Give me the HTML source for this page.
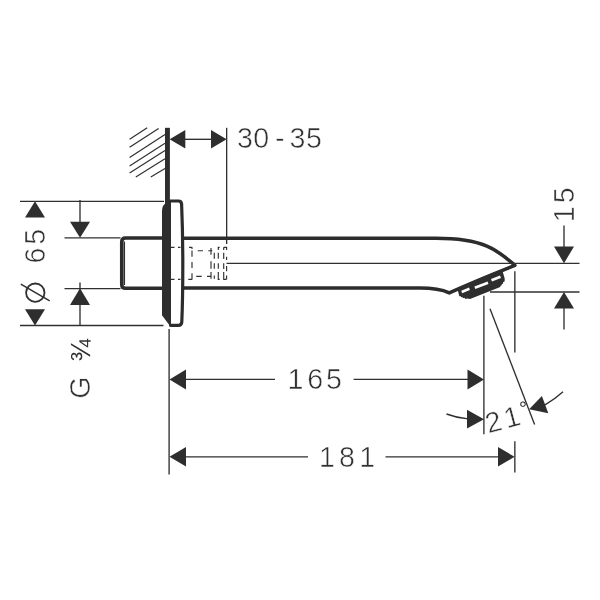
<!DOCTYPE html>
<html lang="en">
<head>
<meta charset="utf-8">
<title>Bath spout dimensional drawing</title>
<style>
html,body{margin:0;padding:0;background:#fff;}
body{width:600px;height:600px;overflow:hidden;}
svg{display:block;will-change:transform;opacity:0.999;}
text{font-family:"Liberation Sans",sans-serif;fill:#303030;stroke:#fff;stroke-width:0.55px;}
.t{stroke:#303030;stroke-width:1.35;fill:none;}
.h{stroke:#303030;stroke-width:1.2;fill:none;}
.k{stroke:#2c2c2c;stroke-width:3.5;fill:none;stroke-linejoin:round;stroke-linecap:round;}
.a{fill:#2e2e2e;stroke:none;}
.d{stroke:#303030;stroke-width:0.9;fill:none;stroke-dasharray:3 2;}
</style>
</head>
<body>
<svg width="600" height="600" viewBox="0 0 600 600">
<rect width="600" height="600" fill="#fff"/>

<!-- wall hatch -->
<g class="h">
<path d="M129.600 139.300L147.200 127.800"/>
<path d="M129.600 147.300L158.600 128.400"/>
<path d="M129.600 157.400L165 134.600"/>
<path d="M129.600 166L165 143.300"/>
<path d="M129.600 173.100L165 150.500"/>
<path d="M135.800 176.900L165 158.800"/>
<path d="M150.800 176.900L165 168.400"/>
</g>
<!-- wall line -->
<path d="M167.450 127.800V206" stroke="#2e2e2e" stroke-width="4.900" fill="none"/>

<!-- 30-35 dimension -->
<path class="t" d="M226.650 127.800V244"/>
<path class="t" d="M184 139.300H212"/>
<path class="a" d="M169.600 139.300L185.300 130V148.600Z"/>
<path class="a" d="M226.600 139.300L211 130V148.600Z"/>
<text x="237.100 253.300 269 275 284 289.600 306" y="147.700" font-size="28.600">30 - 35</text>

<!-- left dimensions -->
<path class="t" d="M20 201.300H164"/>
<path class="t" d="M20 325.500H163.500"/>
<path class="t" d="M64.500 237.800H120.500"/>
<path class="t" d="M64.500 288.600H120.500"/>
<path class="a" d="M35 201.300L25 217.500H45Z"/>
<path class="a" d="M35 325.500L25 309.300H45Z"/>
<path class="t" d="M80 200V222"/>
<path class="a" d="M80 237.700L70 221.700H90Z"/>
<path class="t" d="M80 282.500V326"/>
<path class="a" d="M80 288.300L70 305H90Z"/>
<text transform="translate(45.400 270) rotate(-90)" x="6.500 25.200" y="0" font-size="28.600">65</text>
<!-- diameter symbol -->
<g role="img" aria-label="diameter"><title>⌀ diameter</title>
<circle cx="35.300" cy="292.700" r="9.200" class="t" style="stroke-width:1.800"/>
<path d="M20.800 284.200L49.700 300.800" class="t" style="stroke-width:1.500"/>
</g>
<!-- G 3/4 -->
<text transform="translate(90.200 410) rotate(-90)" x="11.300" y="0" font-size="28.600">G</text>
<text transform="translate(90.200 410) rotate(-90)" x="48.500" y="0" font-size="27" style="stroke:none">¾</text>

<!-- stub -->
<path class="k" d="M163 238.100H125.500Q121.700 238.100 121.700 242V284.500Q121.700 288.300 125.500 288.300H163"/>
<path d="M124.300 241.500V285" stroke="#2e2e2e" stroke-width="1.500" fill="none"/>
<!-- flange -->
<path class="a" d="M162 211Q162 205.500 165.300 203.800L171 199.500V326.800L168.300 323.800L162 315.200Z"/>
<path class="k" d="M170.500 201H178.500Q181.300 201 181.600 204Q182.800 232 182.800 263Q182.800 300 181.800 322Q181.500 325.300 178.500 325.300H170.500" style="stroke-width:3.200"/>
<!-- pipe -->
<path class="k" d="M183 238.300H436C483.700 238.300 497.800 250.100 514.900 265.400Q475 281.200 449.300 292.900C441 289.200 433 288.100 420 288.100H183"/>
<!-- aerator -->
<path class="a" d="M457.400 288.500L459.300 296.200L460.600 296.100L461 297.300L462.400 297L462.900 298.200L464.500 297.800L465.200 298.900L467 298.400L470 299L499 287.400L500.300 286.900L500.200 285.900L501.800 285.300L501.700 284.200L503.200 283.500L503 282.300L504.600 281.400L504.700 278.500L502.800 272L495 272Z"/>
<path d="M461.300 290.800L469 287.600L469.900 290L462.100 293.300Z" fill="#fff"/>
<path d="M474.400 286.600L487.600 281.500L488.500 284L475.300 289.100Z" fill="#fff"/>
<path d="M491 279.100L500 275.400L501 277.900L492 281.600Z" fill="#fff"/>

<!-- hidden detail dashed -->
<path d="M170.5 247.3H174.5M178 247.3H180.5M189 247.3H192.3M217.7 247.3H219.7M223.7 247.3H227M170.5 279.3H174.5M178 279.3H180.5M188.3 279.3H192.3M217.7 279.3H219.7M223.2 279.3H226.5M192 247.3V249M192 250.5V256.7M192 262V268M192 273.3V279.3M197.7 250.7H203M208.3 250.7H212.3M196.3 276.3H201.7M207 276.3H211M211 248V254.7M211 261.3V268.7M211 272V278.7M214.3 252.7V258.7M214.3 263.3V268.7M214.3 275.5V278.7M218.3 247.3V250M218.3 252.7V258.7M218.3 263.3V268.7M218.3 272V278.7M223.7 247.3V250M223.7 252.7V259M223.7 263.3V269M223.7 272V279.3M226.6 246.7V250M226.6 256.7V260M226.6 266V271.3M226.6 275.5V279.3" stroke="#303030" stroke-width="1.150" fill="none"/>

<!-- centre line & 15 dim -->
<path class="t" d="M226.500 263.300H579.500"/>
<path class="t" d="M490 292H579.500"/>
<path class="t" d="M564 225.500V248"/>
<path class="a" d="M564 263.300L554 246.500H574Z"/>
<path class="t" d="M564 307V329.500"/>
<path class="a" d="M564 292L554 308.500H574Z"/>
<text transform="translate(574.200 230) rotate(-90)" x="7.700 26.800" y="0" font-size="28.600">15</text>

<!-- vertical ext lines -->
<path class="t" d="M169.100 329V474.500"/>
<path class="t" d="M483.900 295.700V434.300"/>
<path class="t" d="M514.850 271.200V352.400"/>
<path class="t" d="M514.850 441.200V472.600"/>
<path class="t" d="M490 308.700L534.600 424.500"/>

<!-- 165 -->
<path class="t" d="M185 379.400H275M353.600 379.400H468"/>
<path class="a" d="M169.500 379.400L186 369.400V389.400Z"/>
<path class="a" d="M484 379.400L467.500 369.400V389.400Z"/>
<text x="287.400 307.200 326" y="388.900" font-size="28.600">165</text>

<!-- 181 -->
<path class="t" d="M185 456.800H308M385.500 456.800H498"/>
<path class="a" d="M169.500 456.800L186 447V466.600Z"/>
<path class="a" d="M514.600 456.800L498 447V466.600Z"/>
<text x="318.900 339 359.200" y="466.500" font-size="28.600">181</text>

<!-- 21 deg -->
<path class="t" d="M446.500 414Q457 418 468 418.800"/>
<path class="a" d="M484 419.200L467 409.800V428.600Z"/>
<path class="a" d="M529.100 409.300L541.900 396.100L548.300 413.300Z"/>
<path class="t" d="M545 404.800Q555 399 563 391.700"/>
<text transform="translate(488.400 433.400) rotate(-15)" font-size="28.600"><tspan x="-0.200" y="0">2</tspan><tspan x="19" y="0">1</tspan><tspan x="36.900" y="-8.200" font-size="20" style="stroke:none">°</tspan></text>
</svg>
</body>
</html>
